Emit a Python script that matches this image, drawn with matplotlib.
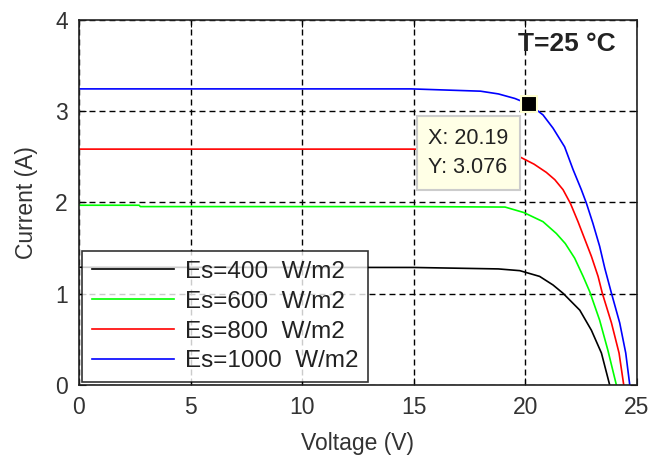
import matplotlib
matplotlib.use("Agg")
import matplotlib.pyplot as plt

plt.rcParams['font.family'] = ['Liberation Sans', 'DejaVu Sans']
plt.rcParams['lines.scale_dashes'] = False

# I-V curves (voltage V, current A)
v_400 = [0, 15, 18.8, 19.76, 20.65, 21.25, 21.7, 22.45, 22.97, 23.42, 23.79]
i_400 = [1.29, 1.288, 1.272, 1.253, 1.19, 1.096, 1.005, 0.82, 0.60, 0.35, 0.0]

v_600 = [0, 2.7, 2.75, 15, 19.1, 19.94, 20.8, 21.4, 21.8, 22.22, 22.6, 22.9, 23.34, 23.71, 24.09]
i_600 = [1.97, 1.97, 1.955, 1.955, 1.95, 1.89, 1.79, 1.66, 1.55, 1.39, 1.19, 1.02, 0.71, 0.38, 0.0]

v_800 = [0, 15, 18, 19.76, 20.4, 20.95, 21.33, 21.7, 22.03, 22.37, 22.67, 22.97, 23.27, 23.46, 23.87, 24.21, 24.42]
i_800 = [2.585, 2.585, 2.56, 2.50, 2.42, 2.33, 2.25, 2.14, 1.99, 1.79, 1.60, 1.41, 1.19, 1.005, 0.68, 0.35, 0.0]

v_1000 = [0, 14.9, 18.0, 18.8, 19.54, 20.19, 20.8, 21.25, 21.77, 22.15, 22.52, 22.75, 23.04, 23.34, 23.57, 23.87, 24.24, 24.51, 24.69]
i_1000 = [3.245, 3.245, 3.22, 3.19, 3.14, 3.076, 2.96, 2.815, 2.61, 2.36, 2.14, 1.99, 1.77, 1.52, 1.28, 1.005, 0.68, 0.35, 0.0]

labels = ['Es=400  W/m2', 'Es=600  W/m2', 'Es=800  W/m2', 'Es=1000  W/m2']
colors = ['black', '#00ff00', 'red', 'blue']

cursor_x, cursor_y = 20.19, 3.076
xticks = [0, 5, 10, 15, 20, 25]
yticks = [0, 1, 2, 3, 4]

fig = plt.figure(figsize=(6.5, 4.62), dpi=100)
ax = fig.add_axes([0.1215, 0.1667, 0.858, 0.79])

for v, i, lab, c in zip([v_400, v_600, v_800, v_1000], [i_400, i_600, i_800, i_1000], labels, colors):
    ax.plot(v, i, color=c, lw=1.2, label=lab)

ax.set_xlim(0, 25)
ax.set_ylim(0, 4)
ax.set_xticks(xticks)
ax.set_yticks(yticks)
ax.grid(True, color='black', lw=1, linestyle=(0, (4.3, 2.9)))
ax.tick_params(direction='in', length=5, top=True, right=True, labelsize=16.5, colors='black', pad=8)
for tl in ax.get_xticklabels() + ax.get_yticklabels():
    tl.set_color('#333333')
for s in ax.spines.values():
    s.set_linewidth(1.2)
    s.set_color('#222222')

ax.set_xlabel('Voltage (V)', fontsize=16.5, color='#333333', labelpad=9)
ax.set_ylabel('Current (A)', fontsize=16.5, color='#333333', labelpad=12)

ax.text(0.962, 0.935, 'T=25 °C', transform=ax.transAxes, ha='right', va='center',
        fontsize=19, fontweight='bold', color='#222222')

# data cursor
ax.plot([cursor_x], [cursor_y], marker='s', ms=11, color='black', mec='#ffffd0', mew=1.5, zorder=5)
ax.annotate('X: 20.19\nY: 3.076', xy=(cursor_x, cursor_y), xytext=(-101, -24), textcoords='offset pixels',
            fontsize=15.5, va='top', ha='left', color='#222222', linespacing=1.5,
            bbox=dict(boxstyle='square,pad=0.55', fc='#ffffe6', ec='#cccccc', lw=1.5), zorder=6)

leg = ax.legend(loc='lower left', fontsize=17.5, frameon=True, fancybox=False, edgecolor='black',
                borderaxespad=0.12, handlelength=3.4, handletextpad=0.45, labelspacing=0.32,
                borderpad=0.4)
leg.get_frame().set_linewidth(1.2)
for t in leg.get_texts():
    t.set_color('#222222')

fig.savefig('out.png', dpi=100)
